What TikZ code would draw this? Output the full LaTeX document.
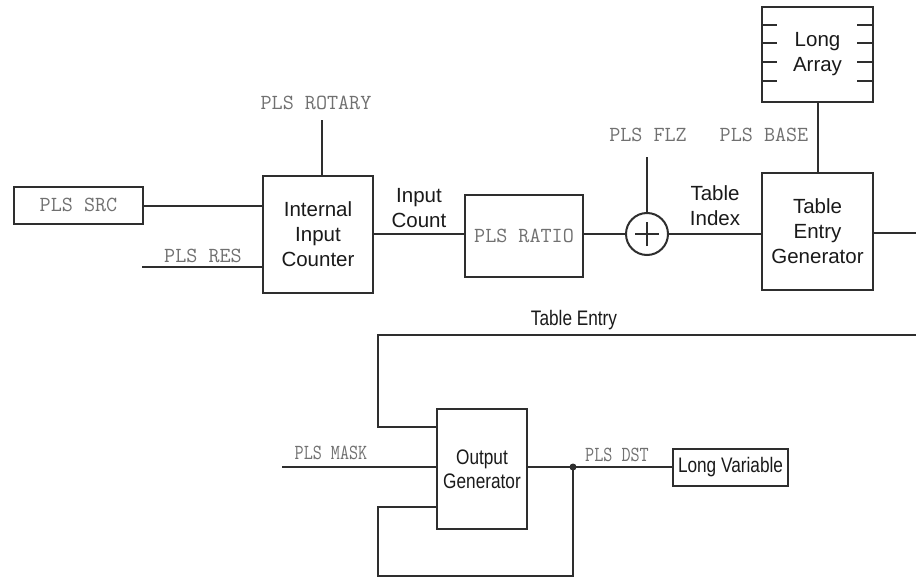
\documentclass[tikz,border=0pt]{standalone}
\usepackage{fontspec}
\setmainfont{Liberation Sans}
\newfontfamily\monof{Latin Modern Mono}
\newfontfamily\sansn[FakeStretch=0.82]{Liberation Sans}
\newfontfamily\monon[FakeStretch=0.82]{Latin Modern Mono}
\definecolor{wire}{HTML}{2E2E2E}
\definecolor{lbl}{HTML}{707070}
\definecolor{ink}{HTML}{1A1A1A}
\tikzset{
  wireline/.style={draw=wire, line width=2pt},
  blk/.style={draw=wire, line width=2pt, fill=white, inner sep=0pt, align=center,
     text=ink, font=\fontsize{20.5}{25}\selectfont},
  blkn/.style={blk, font=\sansn\fontsize{21}{24}\selectfont},
  mlabel/.style={text=lbl, font=\monof\fontsize{21.5}{22}\selectfont, inner sep=0pt},
  mlabeln/.style={text=lbl, font=\monon\fontsize{21.5}{22}\selectfont, inner sep=0pt},
  slabel/.style={text=ink, align=center, inner sep=0pt, font=\fontsize{20.5}{25}\selectfont},
  slabeln/.style={text=ink, align=center, inner sep=0pt, font=\sansn\fontsize{21}{25}\selectfont},
  dotj/.style={circle, fill=wire, inner sep=0pt, minimum size=7pt}
}
\begin{document}
\begin{tikzpicture}[x=1pt,y=-1pt]
\useasboundingbox[fill=white] (0,0) rectangle (916,578);
% blocks
\node[blk, minimum width=129pt, minimum height=37pt] (src) at (78.5,205) {\monof\fontsize{21.5}{22}\selectfont\color{lbl}PLS SRC};
\node[blk, minimum width=110pt, minimum height=117pt] (cnt) at (318,234.5) {Internal\\Input\\Counter};
\node[blk, minimum width=118pt, minimum height=82pt] (ratio) at (524,236) {\monof\fontsize{21.5}{22}\selectfont\color{lbl}PLS RATIO};
\node[draw=wire, line width=2pt, circle, minimum size=42pt, inner sep=0pt] (sum) at (647,234) {};
\draw[wireline] ([xshift=-12pt]sum.center) -- ([xshift=12pt]sum.center)
                ([yshift=-12pt]sum.center) -- ([yshift=12pt]sum.center);
\node[blk, minimum width=111pt, minimum height=117pt] (teg) at (817.5,231.5) {Table\\Entry\\Generator};
\node[blk, minimum width=111pt, minimum height=95pt] (arr) at (817.5,54.5) {Long\\Array};
\foreach \dy in {19,37,56,75}{
  \draw[wireline] ([yshift=-\dy pt]arr.north west) -- ++(16,0);
  \draw[wireline] ([yshift=-\dy pt]arr.north east) -- ++(-17,0);
}
\node[blkn, minimum width=90pt, minimum height=120pt] (og) at (482,469) {Output\\Generator};
\node[blkn, minimum width=115pt, minimum height=37pt] (lv) at (730.5,467.5) {Long Variable};

% coordinates
\coordinate (rotT) at (322,120);
\coordinate (resL) at (142,267);
\coordinate (flzT) at (647,157);
\coordinate (rEdgeA) at (916,233);
\coordinate (rEdgeB) at (916,335);
\coordinate (teL) at (378,335);
\coordinate (teB) at (378,427);
\coordinate (maskL) at (282,467);
\coordinate (junc) at (573,467);
\coordinate (fbB) at (573,576);
\coordinate (fbL) at (378,576);
\coordinate (fbT) at (378,507);

% wires
\draw[wireline] (src.east |- 0,206) -- (cnt.west |- 0,206);
\draw[wireline] (rotT) -- (rotT |- cnt.north);
\draw[wireline] (resL) -- (cnt.west |- resL);
\draw[wireline] (cnt.east |- sum) -- (ratio.west |- sum);
\draw[wireline] (ratio.east |- sum) -- (sum.west);
\draw[wireline] (flzT) -- (sum.north);
\draw[wireline] (sum.east) -- (teg.west |- sum);
\draw[wireline] (teg.east |- rEdgeA) -- (rEdgeA);
\draw[wireline] (arr.south) -- (teg.north);
\draw[wireline, line join=miter] (rEdgeB) -- (teL) -- (teB) -- (og.west |- teB);
\draw[wireline] (maskL) -- (og.west |- maskL);
\draw[wireline] (og.east |- maskL) -- (lv.west |- maskL);
\draw[wireline, line join=miter] (junc) -- (fbB) -- (fbL) -- (fbT) -- (og.west |- fbT);
\node[dotj] (jdot) at (junc) {};

% labels
\node[mlabel] (lrot) at (316,103) {PLS ROTARY};
\node[mlabel] (lres) at (203,256) {PLS RES};
\node[slabel] (lic) at (419,208) {Input\\Count};
\node[mlabel] (lflz) at (648,135) {PLS FLZ};
\node[mlabel] (lbase) at (764,135) {PLS BASE};
\node[slabel] (lti) at (715,206) {Table\\Index};
\node[slabeln] (lte) at (574,320) {Table Entry};
\node[mlabeln] (lmask) at (331,453) {PLS MASK};
\node[mlabeln] (ldst) at (617,455) {PLS DST};
\end{tikzpicture}
\end{document}
